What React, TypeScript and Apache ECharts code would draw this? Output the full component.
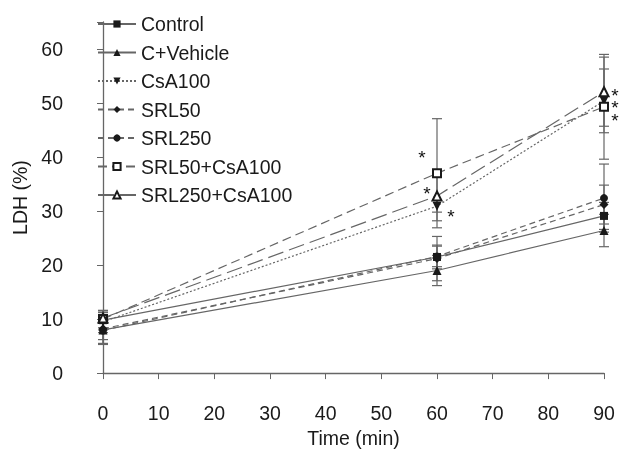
import React, { useEffect, useRef } from "react";
import * as echarts from "echarts";

const times = [0, 60, 90];
const seriesNames = ["Control", "C+Vehicle", "CsA100", "SRL50", "SRL250", "SRL50+CsA100", "SRL250+CsA100"];
const control = [9.8, 21.5, 29.1];
const cVehicle = [8.0, 19.0, 26.4];
const csa100 = [9.5, 30.9, 50.4];
const srl50 = [8.2, 21.2, 31.2];
const srl250 = [7.9, 21.6, 32.4];
const srl50Csa = [10.0, 37.0, 49.3];
const srl250Csa = [10.2, 32.8, 52.1];
const controlSd = [1.8, 2.2, 2.5];
const cVehicleSd = [2.5, 2.8, 3.0];
const csa100Sd = [2.0, 1.1, 5.9];
const srl50Sd = [2.0, 4.1, 3.6];
const srl250Sd = [2.6, 1.9, 6.3];
const srl50CsaSd = [1.6, 10.1, 9.7];
const srl250CsaSd = [1.0, 4.6, 6.4];
const yTicks = [0, 10, 20, 30, 40, 50, 60];
const xTicks = [0, 10, 20, 30, 40, 50, 60, 70, 80, 90];
// significance marks: [series index, time index]
const starMarks: [number, number][] = [[5, 1], [6, 1], [2, 1], [6, 2], [2, 2], [5, 2]];

const FONT = "Liberation Sans";
const FS = 19.5;

export default function App() {
  const ref = useRef<HTMLDivElement>(null);
  useEffect(() => {
    if (!ref.current) return;
    document.body.style.margin = "0";
    const chart = echarts.init(ref.current, null, { renderer: "svg" });
    const means = [control, cVehicle, csa100, srl50, srl250, srl50Csa, srl250Csa];
    const sds = [controlSd, cVehicleSd, csa100Sd, srl50Sd, srl250Sd, srl50CsaSd, srl250CsaSd];
    const symbols = ["rect", "triangle", "triangle", "diamond", "circle", "emptyRect", "emptyTriangle"];
    const rotates = [0, 0, 180, 0, 0, 0, 0];
    const sizes = [8, 9, 9, 9, 8, 8, 9];
    const dashes: any[] = ["solid", "solid", [2, 2], [6, 4], [6, 4], [9, 5], [16, 6]];
    const starOffsets: Record<string, [number, number]> = {
      "5-1": [-15, -16],
      "6-1": [-10, -2],
      "2-1": [14, 10],
      "6-2": [11, 4],
      "2-2": [11, 7],
      "5-2": [11, 14],
    };
    const errData: number[][] = [];
    means.forEach((m, si) => m.forEach((v, ti) => errData.push([times[ti], v - sds[si][ti], v + sds[si][ti]])));

    const lineSeries = seriesNames.map((name, si) => ({
      name,
      type: "line",
      z: 3,
      symbol: symbols[si],
      symbolRotate: rotates[si],
      symbolSize: sizes[si],
      showAllSymbol: true,
      itemStyle: { color: "#1a1a1a", borderColor: "#333", borderWidth: si >= 5 ? 1 : 0 },
      lineStyle: { color: "#666", width: 1.2, type: dashes[si] },
      emphasis: { disabled: true },
      data: means[si].map((v, ti) => {
        const key = `${si}-${ti}`;
        const st = starMarks.find(([a, b]) => a === si && b === ti);
        if (!st) return [times[ti], v];
        const o = starOffsets[key];
        return {
          value: [times[ti], v],
          label: {
            show: true,
            formatter: "*",
            position: "inside",
            offset: [o[0], o[1]],
            fontFamily: FONT,
            fontSize: 19,
            lineHeight: 10,
            color: "#111",
          },
        };
      }),
    }));

    chart.setOption({
      animation: false,
      grid: { left: 103, right: 17, top: 22, bottom: 78 },
      legend: {
        orient: "vertical",
        left: 92,
        top: 9,
        itemWidth: 38,
        itemHeight: 9,
        itemGap: 8.5,
        data: seriesNames,
        textStyle: { fontFamily: FONT, fontSize: FS, color: "#1a1a1a" },
        selectedMode: false,
      },
      xAxis: {
        type: "value",
        min: 0,
        max: 90,
        interval: 10,
        offset: 25,
        name: "Time (min)",
        nameLocation: "middle",
        nameGap: 28,
        nameTextStyle: { fontFamily: FONT, fontSize: FS, color: "#1a1a1a" },
        axisLine: { lineStyle: { color: "#666", width: 1.3 } },
        axisTick: { show: true, inside: false, length: 6, lineStyle: { color: "#666" } },
        axisLabel: {
          fontFamily: FONT,
          fontSize: FS,
          color: "#1a1a1a",
          margin: 5,
          formatter: (v: number) => (xTicks.includes(v) ? String(v) : ""),
        },
        splitLine: { show: false },
      },
      yAxis: {
        type: "value",
        min: 0,
        max: 65,
        interval: 10,
        offset: 26,
        name: "LDH (%)",
        nameLocation: "middle",
        nameGap: 47,
        nameTextStyle: { fontFamily: FONT, fontSize: FS, color: "#1a1a1a" },
        axisLine: { show: true, lineStyle: { color: "#666", width: 1.3 } },
        axisTick: { show: true, inside: false, length: 6, lineStyle: { color: "#666" } },
        axisLabel: {
          fontFamily: FONT,
          fontSize: FS,
          color: "#1a1a1a",
          margin: 14,
          formatter: (v: number) => (yTicks.includes(v) ? String(v) : ""),
        },
        splitLine: { show: false },
      },
      series: [
        {
          type: "custom",
          z: 2,
          silent: true,
          data: errData,
          renderItem: (params: any, api: any) => {
            const x = api.value(0);
            const lo = api.coord([x, api.value(1)]);
            const hi = api.coord([x, api.value(2)]);
            const hw = 5;
            const style = { stroke: "#666", lineWidth: 1.2 };
            return {
              type: "group",
              children: [
                { type: "line", shape: { x1: lo[0], y1: lo[1], x2: hi[0], y2: hi[1] }, style },
                { type: "line", shape: { x1: lo[0] - hw, y1: lo[1], x2: lo[0] + hw, y2: lo[1] }, style },
                { type: "line", shape: { x1: hi[0] - hw, y1: hi[1], x2: hi[0] + hw, y2: hi[1] }, style },
              ],
            };
          },
        },
        ...lineSeries,
      ],
    });
    return () => chart.dispose();
  }, []);
  return <div ref={ref} style={{ position: "fixed", left: 0, top: 0, width: 621, height: 453 }} />;
}
